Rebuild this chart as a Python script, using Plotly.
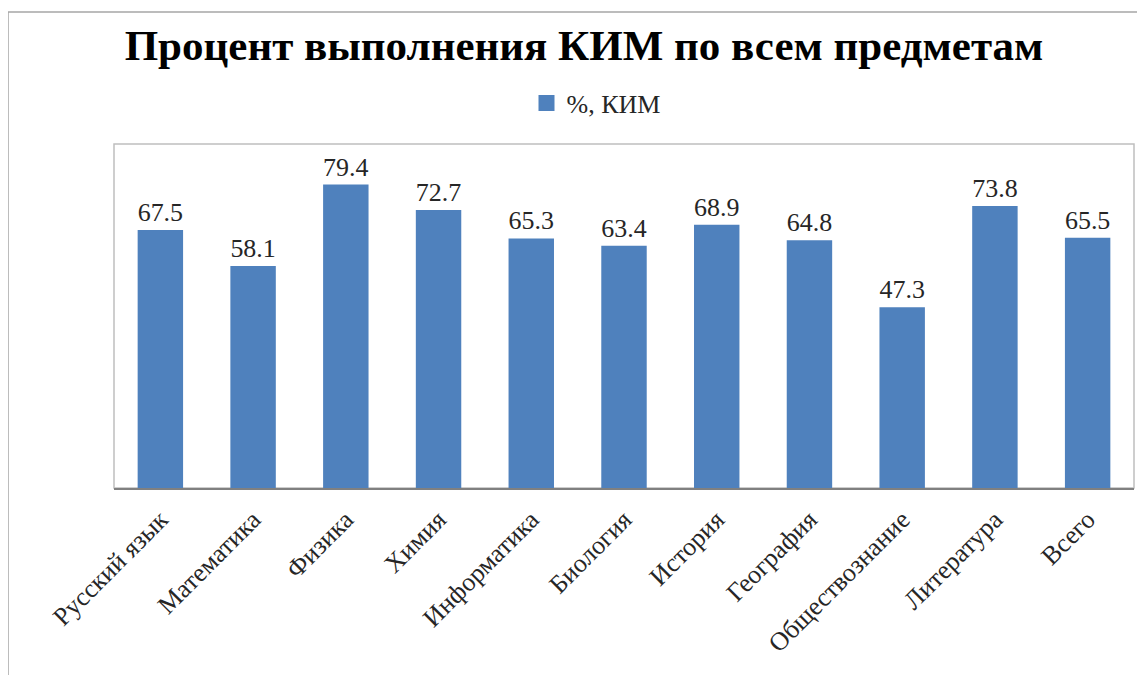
import plotly.graph_objects as go

categories = ["Русский язык", "Математика", "Физика", "Химия", "Информатика",
              "Биология", "История", "География", "Обществознание", "Литература", "Всего"]
values = [67.5, 58.1, 79.4, 72.7, 65.3, 63.4, 68.9, 64.8, 47.3, 73.8, 65.5]
series_name = "%, КИМ"
title_text = "Процент выполнения КИМ по всем предметам"

W, H = 1145, 675
OFF = 8  # page body margin
# desired screen positions of the plot area: x 114..1134, y 144..488
L, T = 114 - OFF, 144 - OFF
R = W - (1134 - OFF)
B = H - (488 - OFF)
ph = H - T - B
pw = W - L - R

def px_x(x):
    return (x - OFF - L) / pw

def px_y(y):
    return (H - B - (y - OFF)) / ph

serif = "Liberation Serif, Times New Roman, serif"
bar_color = "#4F81BD"

fig = go.Figure()
fig.add_trace(go.Bar(
    x=categories, y=values, name=series_name,
    marker=dict(color=bar_color, line=dict(width=0)),
    text=[f"{v:.1f}" for v in values],
    textposition="outside",
    textfont=dict(family=serif, size=26, color="#262626"),
    cliponaxis=False,
    showlegend=False,
))
fig.add_trace(go.Scatter(
    x=[None], y=[None], mode="markers", name=series_name,
    marker=dict(symbol="square", size=18, color=bar_color),
    showlegend=True,
))

fig.update_layout(
    width=W, height=H,
    margin=dict(l=L, r=R, t=T, b=B),
    paper_bgcolor="white", plot_bgcolor="white",
    bargap=0.51,
    title=dict(text=f"<b>{title_text}</b>", x=(584 - OFF) / W, xref="container", xanchor="center",
               y=1 - (45 - OFF) / H, yref="container", yanchor="middle",
               font=dict(family=serif, size=43, color="black")),
    legend=dict(orientation="h", x=px_x(596), xanchor="center", y=px_y(103), yanchor="middle",
                font=dict(family=serif, size=26, color="#262626"),
                itemwidth=30, bgcolor="rgba(0,0,0,0)"),
    xaxis=dict(tickangle=-45, tickfont=dict(family=serif, size=26, color="#262626"),
               showline=True, linecolor="#808080", linewidth=2, ticks="",
               showgrid=False, ticklabelstandoff=4),
    yaxis=dict(range=[0, 90], visible=False, showgrid=False),
    shapes=[
        dict(type="rect", xref="paper", yref="paper", x0=0, x1=1, y0=0, y1=1,
             line=dict(color="#BFBFBF", width=1.5), layer="below"),
        dict(type="line", xref="paper", yref="paper", x0=px_x(8), x1=px_x(8),
             y0=px_y(12), y1=px_y(H + OFF), line=dict(color="#A6A6A6", width=1.5)),
        dict(type="line", xref="paper", yref="paper", x0=px_x(8), x1=px_x(W + OFF),
             y0=px_y(12), y1=px_y(12), line=dict(color="#A6A6A6", width=1.5)),
    ],
)

fig.write_html("out.html")
